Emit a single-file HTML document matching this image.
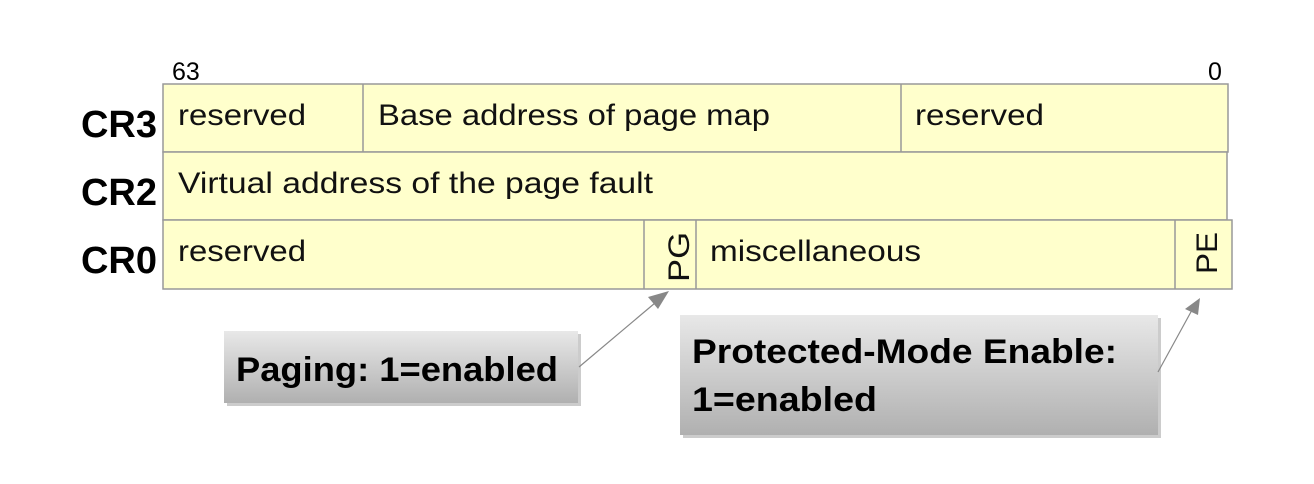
<!DOCTYPE html>
<html><head><meta charset="utf-8"><style>
html,body{margin:0;padding:0;background:#fff;width:1314px;height:484px;overflow:hidden}
svg text{font-family:"Liberation Sans",sans-serif}
</style></head><body>
<svg width="1314" height="484" viewBox="0 0 1314 484" xmlns="http://www.w3.org/2000/svg">
<defs>
<linearGradient id="g" x1="0" y1="0" x2="0" y2="1"><stop offset="0" stop-color="#e8e8e8"/><stop offset="1" stop-color="#b0b0b0"/></linearGradient>
</defs>
<g fill="#ffffcc" stroke="#999" stroke-width="1.5">
<rect x="163" y="84" width="1065" height="68"/>
<rect x="163" y="152" width="1064" height="68"/>
<rect x="163" y="220" width="1069" height="69"/>
<line x1="363" y1="84" x2="363" y2="152"/>
<line x1="901" y1="84" x2="901" y2="152"/>
<line x1="644" y1="220" x2="644" y2="289"/>
<line x1="696" y1="220" x2="696" y2="289"/>
<line x1="1175" y1="220" x2="1175" y2="289"/>
</g>
<g font-size="25" fill="#000">
<text x="172" y="80">63</text>
<text x="1208" y="80">0</text>
</g>
<g font-size="38" font-weight="bold" fill="#000" text-anchor="end">
<text x="157" y="137">CR3</text>
<text x="157" y="205">CR2</text>
<text x="157" y="273">CR0</text>
</g>
<g font-size="30" fill="#111">
<text x="178" y="125" textLength="128" lengthAdjust="spacingAndGlyphs">reserved</text>
<text x="378" y="125" textLength="392" lengthAdjust="spacingAndGlyphs">Base address of page map</text>
<text x="915" y="125" textLength="129" lengthAdjust="spacingAndGlyphs">reserved</text>
<text x="178" y="193" textLength="475" lengthAdjust="spacingAndGlyphs">Virtual address of the page fault</text>
<text x="178" y="261" textLength="128" lengthAdjust="spacingAndGlyphs">reserved</text>
<text x="710" y="261" textLength="211" lengthAdjust="spacingAndGlyphs">miscellaneous</text>
<text transform="translate(689,282) rotate(-90)" textLength="50" lengthAdjust="spacingAndGlyphs">PG</text>
<text transform="translate(1217,274) rotate(-90)" textLength="42" lengthAdjust="spacingAndGlyphs">PE</text>
</g>
<rect x="227" y="334" width="354" height="72" fill="#ccc"/>
<rect x="224" y="331" width="354" height="72" fill="url(#g)"/>
<rect x="683" y="318" width="478" height="120" fill="#ccc"/>
<rect x="680" y="315" width="478" height="120" fill="url(#g)"/>
<g font-size="34" font-weight="bold" fill="#000">
<text x="236" y="381" textLength="322" lengthAdjust="spacingAndGlyphs">Paging: 1=enabled</text>
<text x="692" y="363" textLength="425" lengthAdjust="spacingAndGlyphs">Protected-Mode Enable:</text>
<text x="692" y="411" textLength="185" lengthAdjust="spacingAndGlyphs">1=enabled</text>
</g>
<g stroke="#888" stroke-width="1.2">
<line x1="579" y1="367" x2="655" y2="303"/>
<line x1="1158" y1="372" x2="1192" y2="310"/>
</g>
<g fill="#888">
<polygon points="669,291 648,297 658,309"/>
<polygon points="1200,298 1185,309 1198,315"/>
</g>
</svg>
</body></html>
